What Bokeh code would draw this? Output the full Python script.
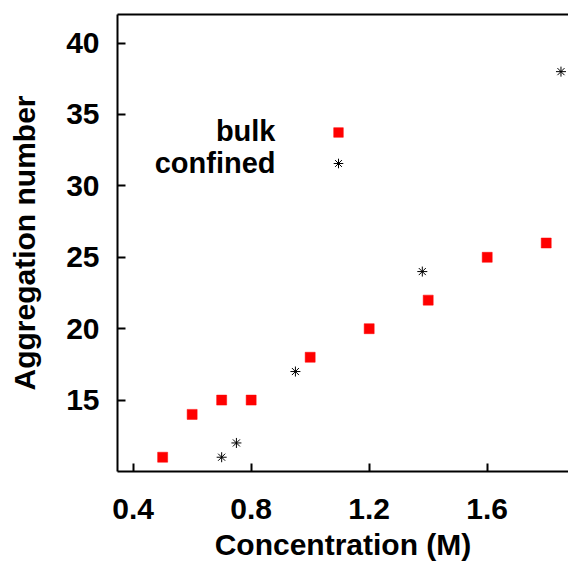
from bokeh.plotting import figure
from bokeh.models import (ColumnDataSource, Range1d, LinearAxis, FixedTicker,
                          Legend, LegendItem, Label)
from bokeh.embed import file_html
from bokeh.resources import INLINE

# ---- data ----
bulk_conc = [0.5, 0.6, 0.7, 0.8, 1.0, 1.2, 1.4, 1.6, 1.8]
bulk_agg = [11, 14, 15, 15, 18, 20, 22, 25, 26]
conf_conc = [0.7, 0.75, 0.95, 1.38, 1.85]
conf_agg = [11, 12, 17, 24, 38]
x_ticks = [0.4, 0.8, 1.2, 1.6]
y_ticks = [15, 20, 25, 30, 35, 40]
series_names = ["bulk", "confined"]

FONT = "Liberation Sans"

p = figure(width=568, height=562, output_backend="svg", toolbar_location=None,
           x_range=Range1d(0.347, 1.8755), y_range=Range1d(10, 42),
           frame_width=451, frame_height=457,
           min_border_left=117, min_border_right=0, min_border_top=14,
           min_border_bottom=91)
p.grid.visible = False
p.outline_line_color = None
p.background_fill_color = "white"
p.border_fill_color = "white"

for ax in (p.xaxis[0], p.yaxis[0]):
    ax.axis_line_width = 2
    ax.major_tick_line_width = 2
    ax.major_tick_in = 8
    ax.major_tick_out = 0
    ax.minor_tick_line_color = None
    ax.major_label_text_font = FONT
    ax.major_label_text_font_size = "30px"
    ax.major_label_text_font_style = "bold"
    ax.major_label_text_color = "black"
    ax.axis_label_text_font = FONT
    ax.axis_label_text_font_size = "30px"
    ax.axis_label_text_font_style = "bold"
    ax.axis_label_text_color = "black"

p.xaxis.ticker = FixedTicker(ticks=x_ticks)
p.yaxis.ticker = FixedTicker(ticks=y_ticks)
p.xaxis.axis_label = "Concentration (M)"
p.yaxis.axis_label = "Aggregation number"
p.xaxis.major_label_standoff = 27
p.xaxis.axis_label_standoff = 6
p.yaxis.major_label_standoff = 18
p.yaxis.axis_label_standoff = 22

top = LinearAxis(ticker=FixedTicker(ticks=[]), major_label_text_font_size="0px",
                 major_tick_in=0, major_tick_out=0, minor_tick_line_color=None,
                 axis_line_width=2, major_label_standoff=0)
p.add_layout(top, "above")

bsrc = ColumnDataSource(dict(x=bulk_conc, y=bulk_agg))
csrc = ColumnDataSource(dict(x=conf_conc, y=conf_agg))
rb = p.scatter("x", "y", source=bsrc, marker="square", size=10,
               fill_color="#ff0000", line_color="#ff0000", line_width=0.5)
rc = p.scatter("x", "y", source=csrc, marker="asterisk", size=10,
               line_color="black", line_width=1)

legend = Legend(items=[LegendItem(label=" ", renderers=[rb]),
                       LegendItem(label=" ", renderers=[rc])],
                location=(209, 296), glyph_width=24, glyph_height=24,
                spacing=7, padding=0, margin=0, label_text_font_size="10px",
                label_width=0, label_height=0, label_standoff=0,
                border_line_color=None, background_fill_color=None)
p.add_layout(legend, "center")

for name, yy in zip(series_names, [341, 309]):
    p.add_layout(Label(x=158, y=yy, x_units="screen", y_units="screen",
                       text=name, text_align="right", text_baseline="alphabetic",
                       text_font=FONT, text_font_size="29px",
                       text_font_style="bold", text_color="black"))

open("out.html", "w").write(file_html(p, INLINE))
